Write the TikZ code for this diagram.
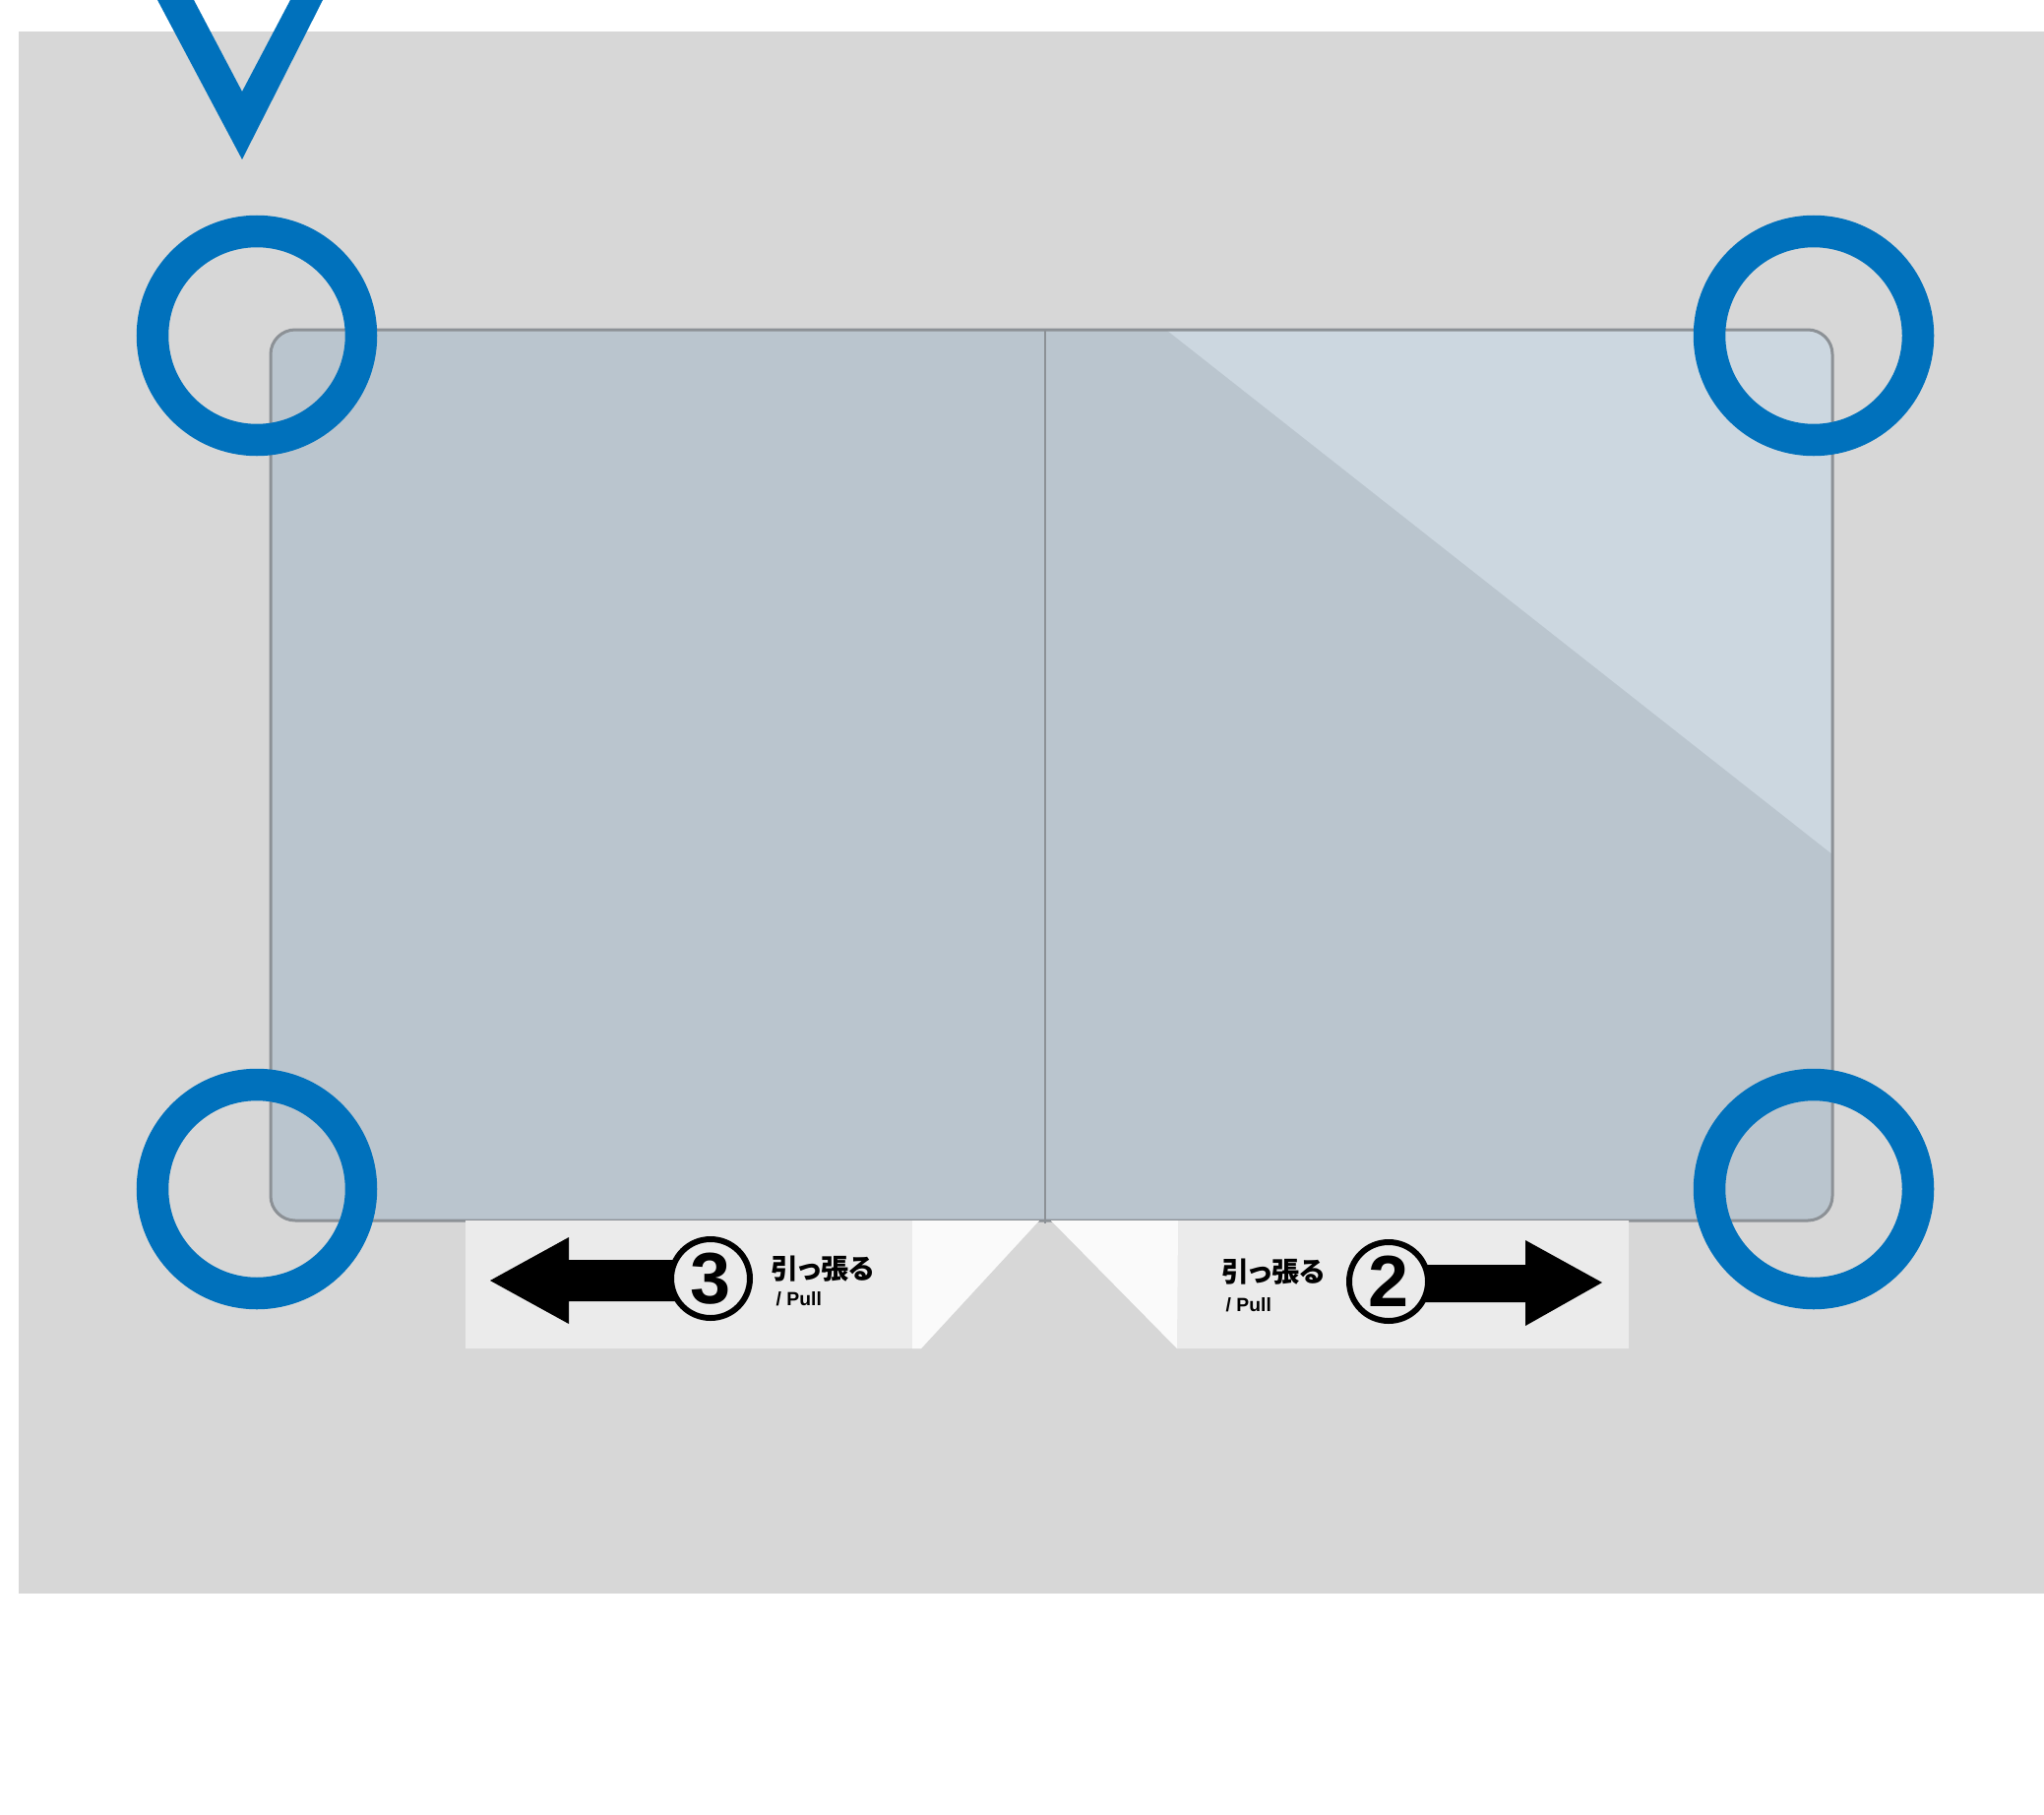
\documentclass[tikz,border=0pt]{standalone}
\usepackage{fontspec}
\newfontfamily\jpfont{Noto Sans CJK JP}[RawFeature=+palt]
\newfontfamily\numfont{Liberation Sans}
\definecolor{bggray}{HTML}{D7D7D7}
\definecolor{cardblue}{HTML}{BAC5CE}
\definecolor{cardlight}{HTML}{CCD7E0}
\definecolor{cardedge}{HTML}{8C9196}
\definecolor{tabgray}{HTML}{EBEBEB}
\definecolor{tabwhite}{HTML}{FAFAFA}
\definecolor{ringblue}{HTML}{0071BC}
\usetikzlibrary{positioning}

\begin{document}
\begin{tikzpicture}[x=0.1mm, y=-0.1mm,
   ring/.style={draw=ringblue, line width=3.25mm},
   tab/.style={fill=tabgray},
   fold/.style={fill=tabwhite},
   edge/.style={draw=cardedge, line width=0.3mm},
   num/.style={circle, draw, fill=tabgray, line width=0.6mm, minimum size=8.0mm, inner sep=0pt, font=\numfont\bfseries\fontsize{21}{21}\selectfont},
   jp/.style={inner sep=0pt, font=\jpfont\bfseries\fontsize{8}{9}\selectfont},
   en/.style={inner sep=0pt, font=\numfont\bfseries\fontsize{5.5}{6}\selectfont}]
   \useasboundingbox (0,0) rectangle (2077,1843);
   \fill[white] (0,0) rectangle (2077,1843);
   \fill[bggray] (19,32) rectangle (2077,1619);
   % card
   \begin{scope}
     \clip[rounded corners=2.5mm] (275,335) rectangle (1862,1240);
     \fill[cardblue] (275,335) rectangle (1862,1240);
     \fill[cardlight] (1185,335) -- (1862,335) -- (1862,868) -- cycle;
   \end{scope}
   \draw[edge, rounded corners=2.5mm] (275,335) rectangle (1862,1240);
   \draw[edge, line width=0.2mm] (1062,335) -- (1062,1243);
   % tabs
   \fill[tab] (473,1240) -- (1056,1240) -- (936,1370) -- (473,1370) -- cycle;
   \fill[fold] (927,1240) -- (1056,1240) -- (936,1370) -- (927,1370) -- cycle;
   \fill[tab] (1068,1240) -- (1655,1240) -- (1655,1370) -- (1196,1370) -- cycle;
   \fill[fold] (1068,1240) -- (1197,1240) -- (1196,1370) -- cycle;
   % pull arrows
   \fill (498,1301) -- (578,1257) -- (578,1280) -- (705,1280) -- (705,1322) -- (578,1322) -- (578,1345) -- cycle;
   \fill (1420,1285) -- (1550,1285) -- (1550,1260) -- (1628,1303) -- (1550,1347) -- (1550,1323) -- (1420,1323) -- cycle;
   \node[num] (n3) at (722,1299) {3};
   \node[num] (n2) at (1411,1302) {2};
   \node[jp] (pull3) at (836,1289) {引っ張る};
   \node[en, anchor=west] (en3) at (788,1320) {/ Pull};
   \node[jp] (pull2) at (1294,1292) {引っ張る};
   \node[en, anchor=west] (en2) at (1245,1326) {/ Pull};
   % markers
   \fill[ringblue] (160,0) -- (246,162) -- (328,0) -- (295,0) -- (246,93) -- (197,0) -- cycle;
   \foreach \cx/\cy in {261/341, 1843/341, 261/1208, 1843/1208}
     \draw[ring] (\cx,\cy) circle[radius=10.6mm];
\end{tikzpicture}
\end{document}
